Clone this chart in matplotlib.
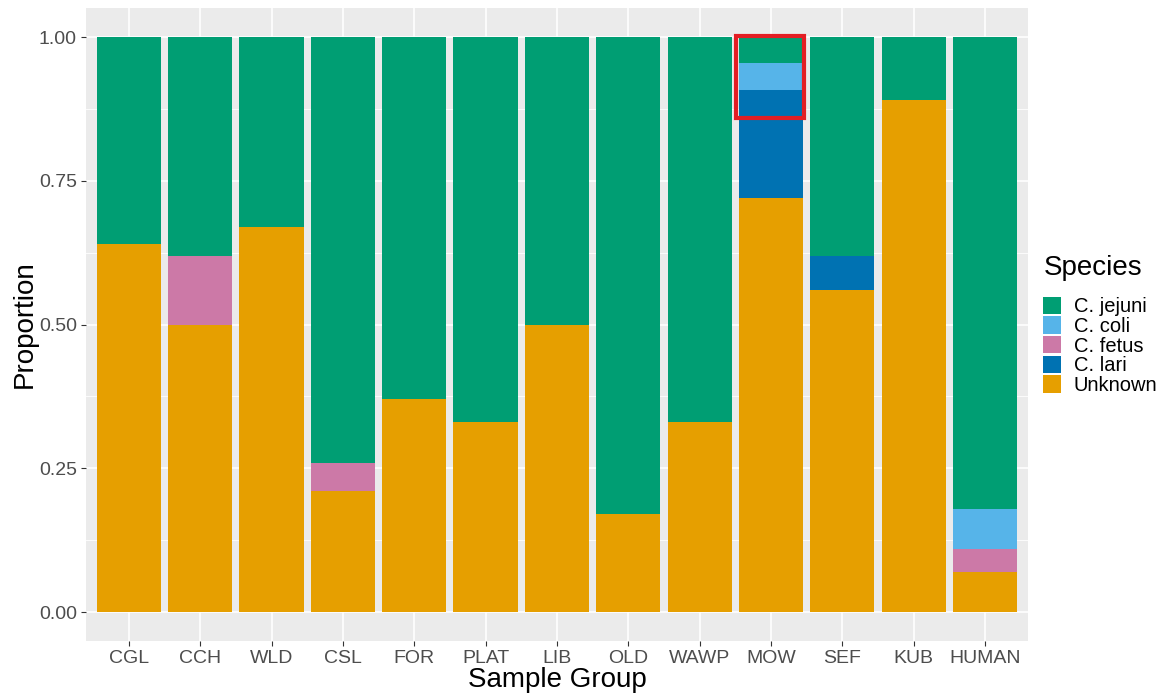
import matplotlib.pyplot as plt
from matplotlib.patches import Patch, Rectangle

plt.rcParams['font.family'] = ['Liberation Sans', 'DejaVu Sans']

groups = ["CGL", "CCH", "WLD", "CSL", "FOR", "PLAT", "LIB", "OLD", "WAWP", "MOW", "SEF", "KUB", "HUMAN"]

# proportions per species, stacked from the bottom up
unknown = [0.64, 0.50, 0.67, 0.21, 0.37, 0.33, 0.50, 0.17, 0.33, 0.72, 0.56, 0.89, 0.07]
lari    = [0.00, 0.00, 0.00, 0.00, 0.00, 0.00, 0.00, 0.00, 0.00, 0.187, 0.06, 0.00, 0.00]
fetus   = [0.00, 0.12, 0.00, 0.05, 0.00, 0.00, 0.00, 0.00, 0.00, 0.00, 0.00, 0.00, 0.04]
coli    = [0.00, 0.00, 0.00, 0.00, 0.00, 0.00, 0.00, 0.00, 0.00, 0.047, 0.00, 0.00, 0.07]
jejuni  = [0.36, 0.38, 0.33, 0.74, 0.63, 0.67, 0.50, 0.83, 0.67, 0.046, 0.38, 0.11, 0.82]

species = ["C. jejuni", "C. coli", "C. fetus", "C. lari", "Unknown"]
colors = {"C. jejuni": "#009E73", "C. coli": "#56B4E9", "C. fetus": "#CC79A7",
          "C. lari": "#0072B2", "Unknown": "#E69F00"}

fig = plt.figure(figsize=(11.72, 6.94), dpi=100)
ax = fig.add_axes([0.0734, 0.0767, 0.8036, 0.9114])
ax.set_facecolor("#EBEBEB")

x = list(range(len(groups)))
bottom = [0.0] * len(groups)
for name, vals in [("Unknown", unknown), ("C. lari", lari), ("C. fetus", fetus),
                   ("C. coli", coli), ("C. jejuni", jejuni)]:
    ax.bar(x, vals, width=0.9, bottom=bottom, color=colors[name], linewidth=0, zorder=3)
    bottom = [b + v for b, v in zip(bottom, vals)]

# grid like ggplot
for yv in [0.125, 0.375, 0.625, 0.875]:
    ax.axhline(yv, color="white", lw=0.6, zorder=1)
for yv in [0, 0.25, 0.5, 0.75, 1.0]:
    ax.axhline(yv, color="white", lw=1.2, zorder=1)
for xv in x:
    ax.axvline(xv, color="white", lw=1.2, zorder=1)

# highlight box around MOW
i = groups.index("MOW")
ax.add_patch(Rectangle((i - 0.49, 0.859), 0.95, 0.143, fill=False,
                       edgecolor="#E31E24", lw=3, zorder=5, clip_on=False))

ax.set_xlim(-0.6, len(groups) - 0.4)
ax.set_ylim(-0.05, 1.05)
ax.set_xticks(x)
ax.set_xticklabels(groups)
ax.set_yticks([0, 0.25, 0.5, 0.75, 1.0])
ax.set_yticklabels(["0.00", "0.25", "0.50", "0.75", "1.00"])
ax.tick_params(colors="#333333", labelcolor="#4D4D4D", labelsize=14, length=3.5, width=0.8, pad=3)
for s in ax.spines.values():
    s.set_visible(False)

ax.set_xlabel("Sample Group", fontsize=20, labelpad=0)
ax.set_ylabel("Proportion", fontsize=20, labelpad=1)

handles = [Patch(facecolor=colors[s], edgecolor="none") for s in species]
leg = fig.legend(handles, species, title="Species", loc="upper left",
                 bbox_to_anchor=(0.8834, 0.6435), frameon=False, fontsize=14.5,
                 title_fontsize=20, handlelength=0.85, handleheight=0.95,
                 labelspacing=0.0, handletextpad=0.65, borderaxespad=0)
leg._legend_box.align = "left"
leg._legend_box.sep = 11

fig.savefig("out.png", dpi=100)
